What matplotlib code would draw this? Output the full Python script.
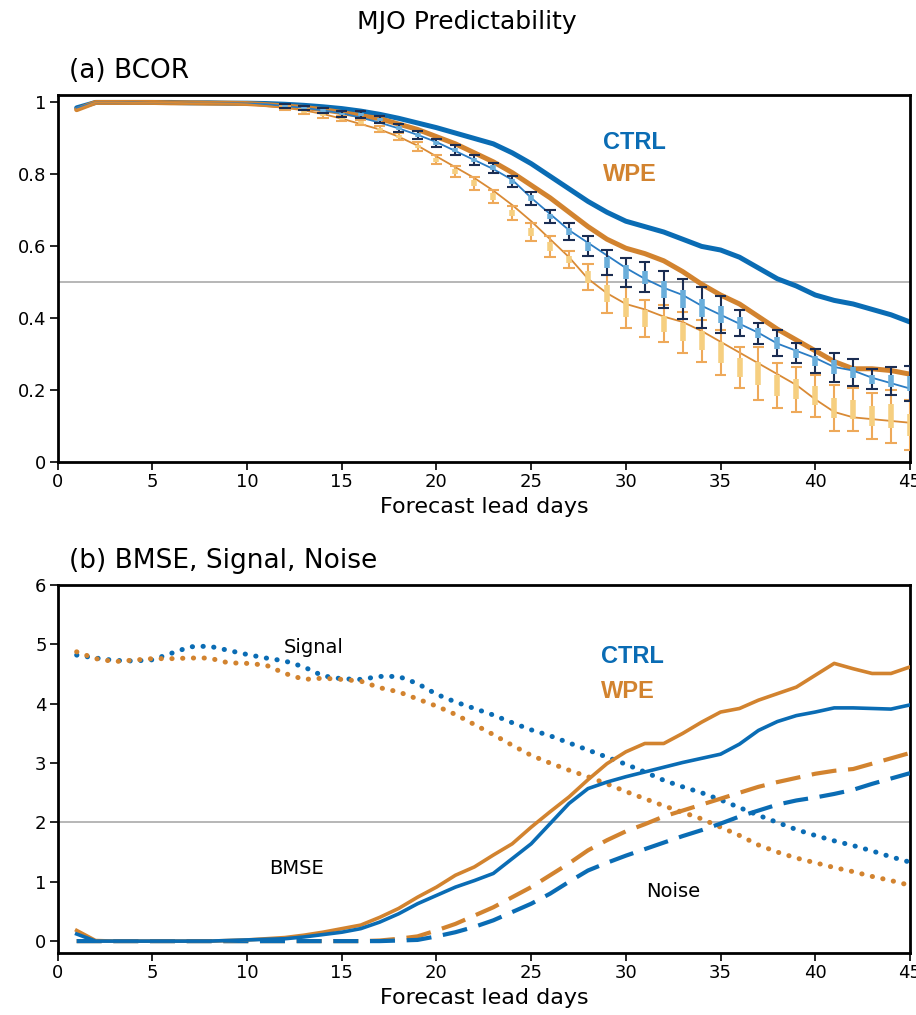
import numpy as np
import matplotlib.pyplot as plt

# ---- data ----
days = np.arange(1, 46)

# (a) BCOR
ctrl_bcor = [0.985, 1.0, 1.0, 1.0, 1.0, 1.0, 0.999, 0.999, 0.998, 0.998,
             0.997, 0.995, 0.992, 0.988, 0.983, 0.976, 0.967, 0.956, 0.943, 0.93,
             0.915, 0.90, 0.885, 0.86, 0.83, 0.795, 0.76, 0.725, 0.695, 0.67,
             0.655, 0.64, 0.62, 0.60, 0.59, 0.57, 0.54, 0.51, 0.49, 0.465,
             0.45, 0.44, 0.425, 0.41, 0.39]
wpe_bcor = [0.98, 1.0, 1.0, 1.0, 1.0, 0.999, 0.999, 0.998, 0.998, 0.997,
            0.994, 0.99, 0.986, 0.98, 0.972, 0.963, 0.955, 0.94, 0.925, 0.905,
            0.885, 0.86, 0.835, 0.805, 0.77, 0.735, 0.695, 0.655, 0.62, 0.595,
            0.58, 0.56, 0.53, 0.495, 0.465, 0.44, 0.405, 0.37, 0.34, 0.31,
            0.28, 0.26, 0.26, 0.255, 0.245]
ctrl_ens = [0.985, 1.0, 1.0, 1.0, 0.999, 0.999, 0.999, 0.998, 0.998, 0.997,
            0.995, 0.99, 0.985, 0.978, 0.97, 0.958, 0.944, 0.928, 0.91, 0.89,
            0.865, 0.84, 0.815, 0.785, 0.735, 0.69, 0.645, 0.61, 0.575, 0.54,
            0.51, 0.485, 0.465, 0.435, 0.41, 0.385, 0.36, 0.33, 0.31, 0.29,
            0.265, 0.255, 0.235, 0.22, 0.205]
wpe_ens = [0.98, 1.0, 1.0, 0.999, 0.999, 0.999, 0.998, 0.998, 0.997, 0.995,
           0.99, 0.985, 0.978, 0.968, 0.955, 0.94, 0.925, 0.905, 0.88, 0.85,
           0.82, 0.79, 0.755, 0.715, 0.67, 0.62, 0.57, 0.51, 0.47, 0.44,
           0.425, 0.405, 0.39, 0.365, 0.335, 0.305, 0.275, 0.245, 0.215, 0.175,
           0.14, 0.125, 0.12, 0.115, 0.11]

# spread bars, days 12..45
bar_days = np.arange(12, 46)
ctrl_lo = [0.985, 0.978, 0.97, 0.96, 0.956, 0.942, 0.918, 0.898, 0.875, 0.855,
           0.827, 0.803, 0.765, 0.715, 0.665, 0.618, 0.572, 0.521, 0.488, 0.472,
           0.428, 0.398, 0.374, 0.359, 0.351, 0.329, 0.296, 0.275, 0.249, 0.224,
           0.213, 0.204, 0.187, 0.171]
ctrl_hi = [0.995, 0.99, 0.985, 0.977, 0.975, 0.962, 0.94, 0.922, 0.899, 0.881,
           0.855, 0.833, 0.795, 0.752, 0.70, 0.664, 0.629, 0.59, 0.569, 0.556,
           0.533, 0.509, 0.486, 0.462, 0.424, 0.388, 0.368, 0.331, 0.314, 0.305,
           0.286, 0.259, 0.264, 0.268]
ctrl_q1 = [0.988, 0.981, 0.974, 0.965, 0.961, 0.948, 0.924, 0.905, 0.882, 0.862,
           0.835, 0.811, 0.773, 0.725, 0.675, 0.631, 0.588, 0.540, 0.510, 0.495,
           0.457, 0.429, 0.405, 0.387, 0.371, 0.345, 0.316, 0.290, 0.267, 0.246,
           0.233, 0.219, 0.208, 0.198]
ctrl_q3 = [0.992, 0.987, 0.981, 0.972, 0.970, 0.956, 0.934, 0.915, 0.892, 0.874,
           0.847, 0.825, 0.787, 0.742, 0.690, 0.651, 0.613, 0.571, 0.547, 0.533,
           0.504, 0.478, 0.455, 0.434, 0.404, 0.372, 0.348, 0.316, 0.296, 0.283,
           0.266, 0.244, 0.243, 0.241]
wpe_lo = [0.978, 0.968, 0.958, 0.948, 0.936, 0.917, 0.895, 0.866, 0.828, 0.793,
          0.758, 0.72, 0.674, 0.616, 0.57, 0.54, 0.479, 0.416, 0.373, 0.348,
          0.333, 0.305, 0.279, 0.243, 0.206, 0.173, 0.150, 0.141, 0.127, 0.088,
          0.087, 0.065, 0.055, 0.034]
wpe_hi = [0.99, 0.982, 0.972, 0.962, 0.952, 0.935, 0.915, 0.89, 0.854, 0.823,
          0.794, 0.758, 0.711, 0.666, 0.63, 0.586, 0.551, 0.521, 0.488, 0.451,
          0.437, 0.419, 0.396, 0.368, 0.321, 0.321, 0.277, 0.266, 0.243, 0.215,
          0.206, 0.192, 0.201, 0.173]
wpe_q1 = [0.981, 0.972, 0.962, 0.952, 0.940, 0.922, 0.900, 0.873, 0.835, 0.801,
          0.768, 0.730, 0.684, 0.630, 0.587, 0.553, 0.499, 0.445, 0.405, 0.376,
          0.362, 0.336, 0.311, 0.277, 0.238, 0.214, 0.185, 0.175, 0.159, 0.123,
          0.120, 0.100, 0.095, 0.072]
wpe_q3 = [0.987, 0.978, 0.968, 0.958, 0.948, 0.930, 0.910, 0.883, 0.847, 0.815,
          0.784, 0.748, 0.701, 0.652, 0.613, 0.573, 0.531, 0.492, 0.456, 0.423,
          0.408, 0.388, 0.364, 0.334, 0.289, 0.280, 0.242, 0.232, 0.211, 0.180,
          0.173, 0.157, 0.161, 0.135]

# (b) BMSE, Signal, Noise
ctrl_bmse = [0.12, 0.0, 0.0, 0.0, 0.0, 0.0, 0.0, 0.0, 0.01, 0.02,
             0.03, 0.04, 0.07, 0.11, 0.15, 0.21, 0.32, 0.46, 0.63, 0.77,
             0.91, 1.02, 1.14, 1.39, 1.64, 1.98, 2.32, 2.57, 2.68, 2.77,
             2.85, 2.93, 3.01, 3.08, 3.15, 3.32, 3.55, 3.70, 3.80, 3.86,
             3.93, 3.93, 3.92, 3.91, 3.98]
wpe_bmse = [0.18, 0.01, 0.0, 0.0, 0.0, 0.0, 0.0, 0.0, 0.01, 0.02,
            0.04, 0.06, 0.10, 0.15, 0.21, 0.27, 0.40, 0.55, 0.74, 0.91,
            1.11, 1.25, 1.45, 1.64, 1.92, 2.18, 2.43, 2.72, 2.99, 3.19,
            3.33, 3.33, 3.50, 3.69, 3.86, 3.92, 4.06, 4.17, 4.28, 4.48,
            4.68, 4.59, 4.51, 4.51, 4.62]
ctrl_signal = [4.82, 4.77, 4.73, 4.72, 4.74, 4.85, 4.96, 4.97, 4.90, 4.83,
               4.77, 4.72, 4.62, 4.47, 4.42, 4.41, 4.46, 4.46, 4.34, 4.16,
               4.03, 3.92, 3.81, 3.68, 3.56, 3.46, 3.34, 3.22, 3.10, 2.98,
               2.85, 2.71, 2.60, 2.50, 2.38, 2.25, 2.12, 2.00, 1.88, 1.78,
               1.69, 1.61, 1.52, 1.42, 1.33]
wpe_signal = [4.875, 4.76, 4.71, 4.735, 4.76, 4.76, 4.77, 4.77, 4.69, 4.68,
              4.65, 4.51, 4.41, 4.43, 4.41, 4.38, 4.27, 4.20, 4.08, 3.96,
              3.82, 3.65, 3.48, 3.30, 3.13, 3.00, 2.88, 2.77, 2.65, 2.52,
              2.40, 2.28, 2.17, 2.06, 1.92, 1.78, 1.62, 1.50, 1.40, 1.32,
              1.24, 1.17, 1.09, 1.02, 0.94]
ctrl_noise = [0.0, 0.0, 0.0, 0.0, 0.0, 0.0, 0.0, 0.0, 0.0, 0.0,
              0.0, 0.0, 0.0, 0.0, 0.0, 0.0, 0.0, 0.01, 0.02, 0.08,
              0.15, 0.24, 0.35, 0.49, 0.63, 0.80, 1.00, 1.19, 1.32, 1.44,
              1.55, 1.66, 1.77, 1.87, 1.98, 2.10, 2.20, 2.30, 2.37, 2.42,
              2.48, 2.55, 2.65, 2.74, 2.83]
wpe_noise = [0.0, 0.0, 0.0, 0.0, 0.0, 0.0, 0.0, 0.0, 0.0, 0.0,
             0.0, 0.0, 0.0, 0.0, 0.0, 0.0, 0.01, 0.04, 0.08, 0.18,
             0.29, 0.43, 0.57, 0.74, 0.91, 1.11, 1.31, 1.53, 1.70, 1.85,
             1.97, 2.10, 2.20, 2.30, 2.40, 2.50, 2.60, 2.68, 2.75, 2.82,
             2.87, 2.90, 2.99, 3.08, 3.17]

# ---- colours ----
blue = '#0a6cb4'
orange = '#d2832f'
navy = '#1b2d52'
lblue = '#6aaedb'
lorange = '#eea95a'
yellow = '#f6cf80'

plt.rcParams['font.family'] = 'DejaVu Sans'

fig = plt.figure(figsize=(9.16, 10.15), dpi=100)
ax1 = fig.add_axes([0.063, 0.5445, 0.9304, 0.362])
ax2 = fig.add_axes([0.063, 0.0611, 0.9304, 0.3625])

fig.text(0.51, 0.978, 'MJO Predictability', ha='center', va='center', fontsize=18)
fig.text(0.075, 0.93, '(a) BCOR', ha='left', va='center', fontsize=19)
fig.text(0.075, 0.447, '(b) BMSE, Signal, Noise', ha='left', va='center', fontsize=19)

# ---- (a) ----
ax1.axhline(0.5, color='#aaaaaa', lw=1.2, zorder=1)
ax1.plot(days, ctrl_bcor, color=blue, lw=3.6, zorder=2, solid_capstyle='round')
ax1.plot(days, wpe_bcor, color=orange, lw=3.6, zorder=2, solid_capstyle='round')
ax1.plot(days, ctrl_ens, color='#2a7cc4', lw=1.3, zorder=3)
ax1.plot(days, wpe_ens, color='#d98a35', lw=1.3, zorder=3)

cap = 0.3
ax1.vlines(bar_days, wpe_lo, wpe_hi, color=lorange, lw=1.5, zorder=4)
ax1.hlines(wpe_lo, bar_days - cap, bar_days + cap, color=lorange, lw=1.5, zorder=4)
ax1.hlines(wpe_hi, bar_days - cap, bar_days + cap, color=lorange, lw=1.5, zorder=4)
ax1.vlines(bar_days, wpe_q1, wpe_q3, color=yellow, lw=4, zorder=4)
ax1.vlines(bar_days, ctrl_lo, ctrl_hi, color=navy, lw=1.5, zorder=5)
ax1.hlines(ctrl_lo, bar_days - cap, bar_days + cap, color=navy, lw=1.5, zorder=5)
ax1.hlines(ctrl_hi, bar_days - cap, bar_days + cap, color=navy, lw=1.5, zorder=5)
ax1.vlines(bar_days, ctrl_q1, ctrl_q3, color=lblue, lw=4, zorder=5)

ax1.set_xlim(0, 45)
ax1.set_ylim(0, 1.021)
ax1.set_yticks([0, 0.2, 0.4, 0.6, 0.8, 1])
ax1.set_yticklabels(['0', '0.2', '0.4', '0.6', '0.8', '1'])
ax1.text(28.8, 0.89, 'CTRL', color=blue, fontsize=17, fontweight='bold',
         family='Liberation Sans', va='center')
ax1.text(28.8, 0.80, 'WPE', color=orange, fontsize=17, fontweight='bold',
         family='Liberation Sans', va='center')

# ---- (b) ----
dots = (0, (0.05, 2.1))
dashes = (0, (6, 2.8))
ax2.axhline(2, color='#aaaaaa', lw=1.2, zorder=1)
ax2.plot(days, ctrl_signal, color=blue, lw=3.6, ls=dots, dash_capstyle='round', zorder=3)
ax2.plot(days, wpe_signal, color=orange, lw=3.6, ls=dots, dash_capstyle='round', zorder=3)
ax2.plot(days, wpe_noise, color=orange, lw=3, ls=dashes, zorder=3)
ax2.plot(days, ctrl_noise, color=blue, lw=3, ls=dashes, zorder=3)
ax2.plot(days, wpe_bmse, color=orange, lw=2.6, zorder=4)
ax2.plot(days, ctrl_bmse, color=blue, lw=2.6, zorder=4)

ax2.set_xlim(0, 45)
ax2.set_ylim(-0.2, 6)
ax2.set_yticks(range(0, 7))
ax2.text(13.5, 4.94, 'Signal', fontsize=14, ha='center', va='center')
ax2.text(12.6, 1.23, 'BMSE', fontsize=14, ha='center', va='center')
ax2.text(32.5, 0.84, 'Noise', fontsize=14, ha='center', va='center')
ax2.text(28.7, 4.8, 'CTRL', color=blue, fontsize=17, fontweight='bold',
         family='Liberation Sans', va='center')
ax2.text(28.7, 4.2, 'WPE', color=orange, fontsize=17, fontweight='bold',
         family='Liberation Sans', va='center')

for ax in (ax1, ax2):
    ax.set_xticks(range(0, 46, 5))
    ax.set_xlabel('Forecast lead days', fontsize=16, labelpad=4)
    ax.tick_params(direction='out', length=6, width=1.2, labelsize=13, pad=2)
    for s in ax.spines.values():
        s.set_linewidth(2)

fig.savefig('out.png', dpi=100)
